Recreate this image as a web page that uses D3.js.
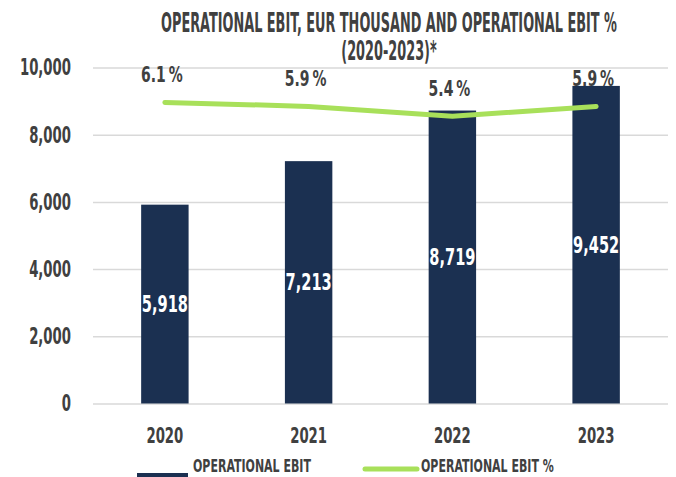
<!DOCTYPE html>
<html>
<head>
<meta charset="utf-8">
<script src="https://cdn.jsdelivr.net/npm/d3@7"></script>
<style>
  body { margin: 0; background: #fff; }
  svg text { font-family: "DejaVu Sans Condensed", "DejaVu Sans", sans-serif; font-stretch: condensed; font-weight: bold; fill: #404040; }
</style>
</head>
<body>
<div id="chart"></div>
<script>
// data
const years = ['2020', '2021', '2022', '2023'];
const ebit = [5918, 7213, 8719, 9452];
const ebitPct = [6.1, 5.9, 5.4, 5.9];
const yTicks = [0, 2000, 4000, 6000, 8000, 10000];
const titleLines = ['OPERATIONAL EBIT, EUR THOUSAND AND OPERATIONAL EBIT %', '(2020-2023)*'];
const legendLabels = ['OPERATIONAL EBIT', 'OPERATIONAL EBIT %'];

const barColor = '#1b3051';
const lineColor = '#a8e05a';

const containerWidth = 676, containerHeight = 477;
const margin = {top: 67.5, right: 8, bottom: 73.5, left: 93};
const width = containerWidth - margin.left - margin.right;
const height = containerHeight - margin.top - margin.bottom;

// the reference uses a very narrow display face, so squeeze the text horizontally
function squeeze(sel, k) {
  sel.each(function() {
    const x = +d3.select(this).attr('x') || 0;
    d3.select(this).attr('transform', `matrix(${k},0,0,1,${x * (1 - k)},0)`);
  });
}

const svg = d3.select('#chart')
  .append('svg')
    .attr('width', containerWidth)
    .attr('height', containerHeight);

const chart = svg.append('g')
    .attr('transform', `translate(${margin.left},${margin.top})`);

// scales
const xScale = d3.scaleBand()
    .domain(years)
    .range([0, width])
    .paddingInner(0.67)
    .paddingOuter(0.335);

const yScale = d3.scaleLinear()
    .domain([0, 10000])
    .range([height, 0]);

// hidden secondary axis for the percentage line
const pctScale = d3.scaleLinear()
    .domain([-9, 7.85])
    .range([height, 0]);

// gridlines + y labels
const yAxis = d3.axisLeft(yScale)
    .tickValues(yTicks)
    .tickSize(-width)
    .tickPadding(22)
    .tickFormat(d3.format(','));

const yAxisG = chart.append('g')
    .attr('class', 'axis y-axis')
    .call(yAxis);

yAxisG.select('.domain').remove();
yAxisG.selectAll('line')
    .attr('stroke', '#d9d9d9')
    .attr('stroke-width', 1.5);
yAxisG.selectAll('text')
    .attr('font-size', 23)
    .attr('dy', '0.32em')
    .call(squeeze, 0.64);

// x labels
const xAxis = d3.axisBottom(xScale).tickSize(0).tickPadding(0);
const xAxisG = chart.append('g')
    .attr('class', 'axis x-axis')
    .attr('transform', `translate(0,${height})`)
    .call(xAxis);
xAxisG.select('.domain').remove();
xAxisG.selectAll('text')
    .attr('font-size', 22)
    .attr('dy', null)
    .attr('y', 39.5)
    .call(squeeze, 0.67);

// bars
const barData = years.map((y, i) => ({year: y, value: ebit[i], pct: ebitPct[i]}));

chart.selectAll('.bar')
    .data(barData)
  .join('rect')
    .attr('class', 'bar')
    .attr('x', d => xScale(d.year))
    .attr('width', xScale.bandwidth())
    .attr('y', d => yScale(d.value))
    .attr('height', d => yScale(0) - yScale(d.value))
    .attr('fill', barColor);

chart.selectAll('.bar-label')
    .data(barData)
  .join('text')
    .attr('class', 'bar-label')
    .attr('x', d => xScale(d.year) + xScale.bandwidth() / 2)
    .attr('y', d => (yScale(d.value) + yScale(0)) / 2)
    .attr('dy', '0.36em')
    .attr('text-anchor', 'middle')
    .attr('font-size', 22.5)
    .style('fill', '#fff')
    .text(d => d3.format(',')(d.value))
    .call(squeeze, 0.72);

// percentage line
const line = d3.line()
    .x(d => xScale(d.year) + xScale.bandwidth() / 2)
    .y(d => pctScale(d.pct));

chart.append('path')
    .datum(barData)
    .attr('d', line)
    .attr('fill', 'none')
    .attr('stroke', lineColor)
    .attr('stroke-width', 5)
    .attr('stroke-linecap', 'round')
    .attr('stroke-linejoin', 'round');

chart.selectAll('.pct-label')
    .data(barData)
  .join('text')
    .attr('class', 'pct-label')
    .attr('x', d => xScale(d.year) + xScale.bandwidth() / 2 - 3)
    .attr('y', d => pctScale(d.pct) - 20)
    .attr('text-anchor', 'middle')
    .attr('font-size', 21)
    .text(d => d.pct.toFixed(1) + '\u2009%')
    .call(squeeze, 0.74);

// title
svg.selectAll('.title')
    .data(titleLines)
  .join('text')
    .attr('class', 'title')
    .attr('x', 389)
    .attr('y', (d, i) => 32 + i * 28)
    .attr('text-anchor', 'middle')
    .attr('font-size', 26)
    .text(d => d)
    .call(squeeze, 0.55);

// legend
const legend = svg.append('g').attr('class', 'legend');
legend.append('rect')
    .attr('x', 137).attr('y', 473)
    .attr('width', 51).attr('height', 14)
    .attr('fill', barColor);
legend.append('line')
    .attr('x1', 365).attr('x2', 417)
    .attr('y1', 469).attr('y2', 469)
    .attr('stroke', lineColor)
    .attr('stroke-width', 5)
    .attr('stroke-linecap', 'round');
legend.selectAll('.legend-label')
    .data(legendLabels)
  .join('text')
    .attr('class', 'legend-label')
    .attr('x', (d, i) => i === 0 ? 193 : 421)
    .attr('y', 472.5)
    .attr('font-size', 18)
    .text(d => d)
    .call(squeeze, 0.68);
</script>
</body>
</html>
